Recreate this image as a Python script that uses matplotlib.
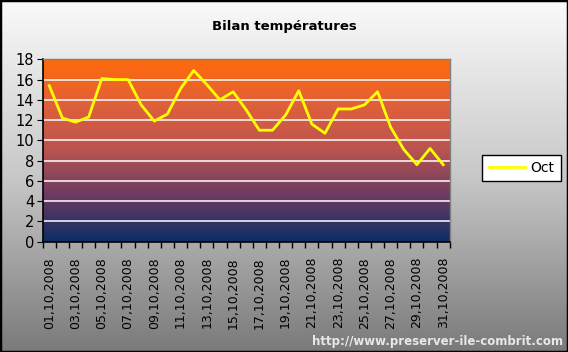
import numpy as np
import matplotlib
matplotlib.use("Agg")
import matplotlib.pyplot as plt
from matplotlib.colors import LinearSegmentedColormap

# daily temperatures, October 2008
days = ["%02d,10,2008" % d for d in range(1, 32)]
temps = [15.4, 12.2, 11.8, 12.3, 16.1, 16.0, 16.0, 13.5, 11.9, 12.6,
         15.1, 16.9, 15.5, 14.0, 14.8, 13.0, 11.0, 11.0, 12.5, 14.9,
         11.6, 10.7, 13.1, 13.1, 13.5, 14.8, 11.3, 9.1, 7.6, 9.2, 7.6]
title = "Bilan températures"
series_name = "Oct"

fig = plt.figure(figsize=(5.68, 3.52), dpi=100)

# figure background: light top to grey bottom
bg = fig.add_axes([0, 0, 1, 1], zorder=-10)
bg_cmap = LinearSegmentedColormap.from_list("bg", ["#fafafa", "#c8c8c8", "#7a7a7a"])
bg.imshow(np.linspace(0, 1, 256).reshape(-1, 1), cmap=bg_cmap, aspect="auto",
          extent=[0, 1, 0, 1], origin="upper")
bg.set_axis_off()
bg.add_patch(plt.Rectangle((0, 0), 1, 1, transform=bg.transAxes, fill=False,
                           edgecolor="black", linewidth=2.5))

ax = fig.add_axes([0.0752, 0.3134, 0.7166, 0.5181])
x = np.arange(len(temps))

# plot area gradient orange -> navy
pa_cmap = LinearSegmentedColormap.from_list("pa", ["#ff6a0a", "#e0603a", "#b85450", "#6a3a62", "#0c2d66"])
ax.imshow(np.linspace(0, 1, 256).reshape(-1, 1), cmap=pa_cmap, aspect="auto",
          extent=[-0.5, len(temps) - 0.5, 0, 18], origin="upper", zorder=0)

for yv in range(2, 18, 2):
    ax.axhline(yv, color="white", linewidth=1.1, zorder=1)

ax.plot(x, temps, color="#ffff00", linewidth=2, zorder=3, label=series_name)

ax.set_xlim(-0.5, len(temps) - 0.5)
ax.set_ylim(0, 18)
ax.set_yticks(range(0, 19, 2))
ax.set_xticks(np.arange(-0.5, len(temps), 1))
ax.set_xticklabels([])
ax.set_xticks(x[::2], minor=True)
ax.set_xticklabels(days[::2], minor=True, rotation=90, fontsize=9)
ax.tick_params(axis="x", which="minor", length=0, pad=11)
ax.tick_params(axis="x", which="major", length=4, direction="out", width=1)
ax.tick_params(axis="y", length=4, direction="out", labelsize=10.5, pad=2)

for s in ["left", "bottom"]:
    ax.spines[s].set_color("black")
    ax.spines[s].set_linewidth(1.2)
for s in ["top", "right"]:
    ax.spines[s].set_color("#808080")
    ax.spines[s].set_linewidth(1)

fig.text(0.5, 0.925, title, ha="center", va="center", fontsize=9.5,
         fontweight="bold", family="DejaVu Sans")

leg = fig.legend(loc="center", bbox_to_anchor=(0.918, 0.523), frameon=True,
                 fancybox=False, edgecolor="black", facecolor="white",
                 framealpha=1, fontsize=10, handlelength=2.6, borderpad=0.45,
                 handletextpad=0.4)
leg.get_frame().set_linewidth(1)

fig.text(0.992, 0.01, "http://www.preserver-ile-combrit.com", ha="right",
         va="bottom", fontsize=8.5, fontweight="bold", color="#e8e8e8")

plt.savefig("out.png", dpi=100)
